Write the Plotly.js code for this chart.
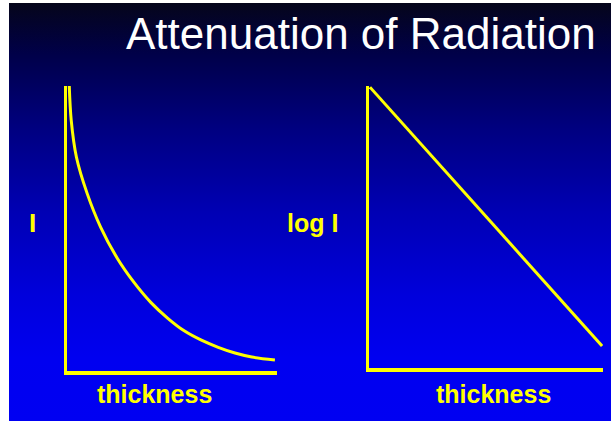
<!DOCTYPE html>
<html>
<head>
<meta charset="utf-8">
<script src="https://cdn.plot.ly/plotly-3.0.1.min.js"></script>
<style>
  html, body { margin: 0; padding: 0; background: #ffffff; }
  #bg {
    position: absolute; left: 9px; top: 3px; width: 602px; height: 418px;
    background: linear-gradient(to bottom, #05051a 0%, #000048 12%, #000080 30%, #0000b4 50%, #0000dc 70%, #0000f0 85%, #0000f2 100%);
  }
  #chart { position: absolute; left: 0; top: 0; width: 611px; height: 421px; }
</style>
</head>
<body>
<div id="bg"></div>
<div id="chart"></div>
<script>
// ----- data -----
const titleText = "Attenuation of Radiation";
const xLabel = "thickness";
const yLabelLin = "I";
const yLabelLog = "log I";

// left panel: intensity vs thickness (exponential fall-off)
const thicknessLin = [0.1, 0.2, 0.45, 0.95, 1.6, 2.4, 3.2, 4.0, 4.8, 5.6, 6.4, 7.2, 8.0, 8.8, 9.9];
const intensity    = [101.4, 88.0, 75.0, 62.5, 50.5, 39.5, 31.0, 24.0, 18.5, 14.0, 10.8, 8.3, 6.3, 4.9, 3.9];

// right panel: log intensity vs thickness (straight line)
const thicknessLog = [0.04, 9.96];
const logIntensity = [99.6, 7.8];

const W = 611, H = 421;
const yellow = "#ffff00";
const px = v => v / W;
const py = v => 1 - v / H;

const traces = [
  { x: thicknessLin, y: intensity, type: "scatter", mode: "lines",
    line: { color: yellow, width: 3, shape: "spline", smoothing: 0.9 },
    xaxis: "x", yaxis: "y", cliponaxis: false, hoverinfo: "skip" },
  { x: thicknessLog, y: logIntensity, type: "scatter", mode: "lines",
    line: { color: yellow, width: 3 },
    xaxis: "x2", yaxis: "y2", cliponaxis: false, hoverinfo: "skip" }
];

const axBase = {
  showline: true, linecolor: yellow, linewidth: 3.5,
  showgrid: false, zeroline: false, showticklabels: false, ticks: "",
  fixedrange: true
};

const layout = {
  width: W, height: H,
  margin: { l: 0, r: 0, t: 0, b: 0 },
  paper_bgcolor: "rgba(0,0,0,0)",
  plot_bgcolor: "rgba(0,0,0,0)",
  showlegend: false,
  xaxis:  Object.assign({}, axBase, { domain: [px(67), px(277)], range: [0, 10], anchor: "y" }),
  yaxis:  Object.assign({}, axBase, { domain: [py(371), py(86)], range: [0, 100], anchor: "x" }),
  xaxis2: Object.assign({}, axBase, { domain: [px(369), px(603)], range: [0, 10], anchor: "y2" }),
  yaxis2: Object.assign({}, axBase, { domain: [py(368), py(86)], range: [0, 100], anchor: "x2" }),
  annotations: [
    { text: titleText, xref: "paper", yref: "paper", x: px(598), y: py(33),
      xanchor: "right", yanchor: "middle", showarrow: false,
      font: { family: "Liberation Sans, Arial, sans-serif", size: 44, color: "#ffffff" } },
    { text: "<b>" + yLabelLin + "</b>", xref: "paper", yref: "paper", x: px(32.5), y: py(222.5),
      xanchor: "center", yanchor: "middle", showarrow: false,
      font: { family: "Liberation Sans, Arial, sans-serif", size: 26, color: yellow } },
    { text: "<b>" + yLabelLog + "</b>", xref: "paper", yref: "paper", x: px(312), y: py(222.5),
      xanchor: "center", yanchor: "middle", showarrow: false,
      font: { family: "Liberation Sans, Arial, sans-serif", size: 25, color: yellow } },
    { text: "<b>" + xLabel + "</b>", xref: "paper", yref: "paper", x: px(154.5), y: py(394),
      xanchor: "center", yanchor: "middle", showarrow: false,
      font: { family: "Liberation Sans, Arial, sans-serif", size: 25, color: yellow } },
    { text: "<b>" + xLabel + "</b>", xref: "paper", yref: "paper", x: px(493), y: py(394),
      xanchor: "center", yanchor: "middle", showarrow: false,
      font: { family: "Liberation Sans, Arial, sans-serif", size: 25, color: yellow } }
  ]
};

Plotly.newPlot("chart", traces, layout, { displayModeBar: false, staticPlot: true });
</script>
</body>
</html>
